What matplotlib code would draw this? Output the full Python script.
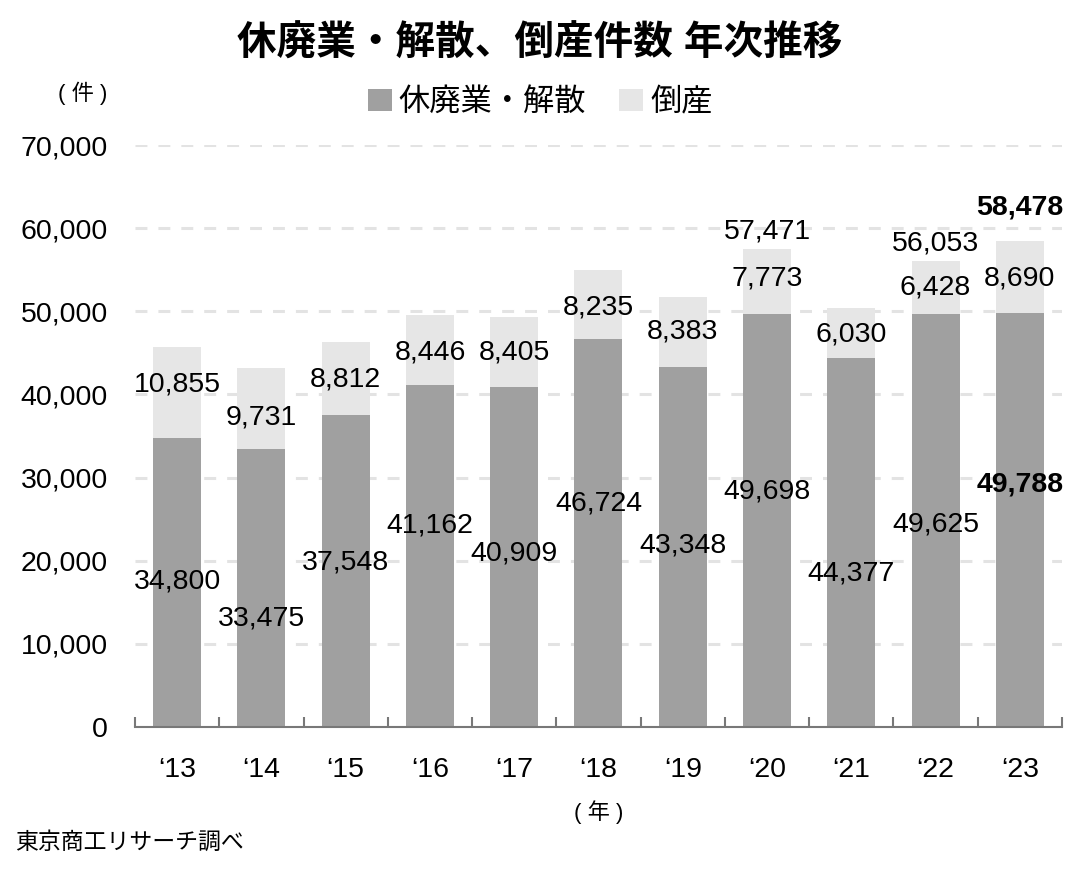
import matplotlib.pyplot as plt
import numpy as np

plt.rcParams['font.family'] = ['Liberation Sans', 'Noto Sans CJK JP', 'DejaVu Sans']

# data
years = ["‘13", "‘14", "‘15", "‘16", "‘17", "‘18", "‘19", "‘20", "‘21", "‘22", "‘23"]
kyuhai = [34800, 33475, 37548, 41162, 40909, 46724, 43348, 49698, 44377, 49625, 49788]
tosan = [10855, 9731, 8812, 8446, 8405, 8235, 8383, 7773, 6030, 6428, 8690]
total_idx = [7, 9, 10]   # years that get a total label

# label heights (layout only, in data units)
kyuhai_lab_y = [17440, 12990, 19730, 24180, 20810, 26940, 21770, 28270, 18520, 24300, 29110]
tosan_lab_y = [41140, 37170, 41740, 45100, 45100, 50400, 47510, 53890, 47150, 52920, 54000]
total_lab_y = {7: 59540, 9: 58210, 10: 62430}

c_dark = '#a0a0a0'
c_light = '#e6e6e6'

fig = plt.figure(figsize=(10.8, 8.8), dpi=100)
ax = fig.add_axes([0.125, 0.1739, 0.8583, 0.6613])

x = np.arange(len(years))
ax.bar(x, kyuhai, width=0.57, color=c_dark, label='休廃業・解散', zorder=2)
ax.bar(x, tosan, width=0.57, bottom=kyuhai, color=c_light, label='倒産', zorder=2)

fs = 20.5
for i in range(len(years)):
    w = 'bold' if i == 10 else 'normal'
    ax.text(x[i], kyuhai_lab_y[i], f"{kyuhai[i]:,}", ha='center', va='center',
            fontsize=fs, fontweight=w, zorder=3)
    ax.text(x[i], tosan_lab_y[i], f"{tosan[i]:,}", ha='center', va='center',
            fontsize=fs, zorder=3)
for i in total_idx:
    w = 'bold' if i == 10 else 'normal'
    ax.text(x[i], total_lab_y[i], f"{kyuhai[i] + tosan[i]:,}", ha='center', va='center',
            fontsize=fs, fontweight=w, zorder=3)

ax.set_xlim(-0.5, len(years) - 0.5)
ax.set_ylim(0, 70000)
ax.set_yticks(np.arange(0, 70001, 10000))
ax.set_yticklabels([f"{v:,}" for v in range(0, 70001, 10000)], fontsize=fs)
ax.set_xticks(x)
ax.set_xticklabels(years, fontsize=fs)
ax.set_xticks(np.arange(-0.5, len(years)), minor=True)
ax.tick_params(axis='y', length=0, pad=19.5)
ax.tick_params(axis='x', which='major', length=0, pad=21.5)
ax.tick_params(axis='x', which='minor', direction='in', length=7, width=1.5, color='#787878')

ax.grid(axis='y', color='#e3e3e3', linestyle=(0, (3.9, 3.6)), linewidth=2.2, zorder=0)
for s in ['left', 'right', 'top']:
    ax.spines[s].set_visible(False)
ax.spines['bottom'].set_color('#787878')
ax.spines['bottom'].set_linewidth(1.5)
ax.spines['bottom'].set_zorder(4)

fig.text(0.5, 0.95, '休廃業・解散、倒産件数 年次推移', ha='center', va='center',
         fontsize=28.5, fontweight='bold')
fig.legend(loc='center', bbox_to_anchor=(0.5, 0.883), ncol=2, frameon=False,
           fontsize=22.5, handlelength=0.77, handleheight=0.74, handletextpad=0.22,
           columnspacing=1.06)
fig.text(0.077, 0.894, '( 件 )', ha='center', va='center', fontsize=16)
fig.text(0.554, 0.077, '( 年 )', ha='center', va='center', fontsize=16)
fig.text(0.014, 0.043, '東京商工リサーチ調べ', ha='left', va='center', fontsize=16.5)

fig.savefig('out.png', dpi=100)
